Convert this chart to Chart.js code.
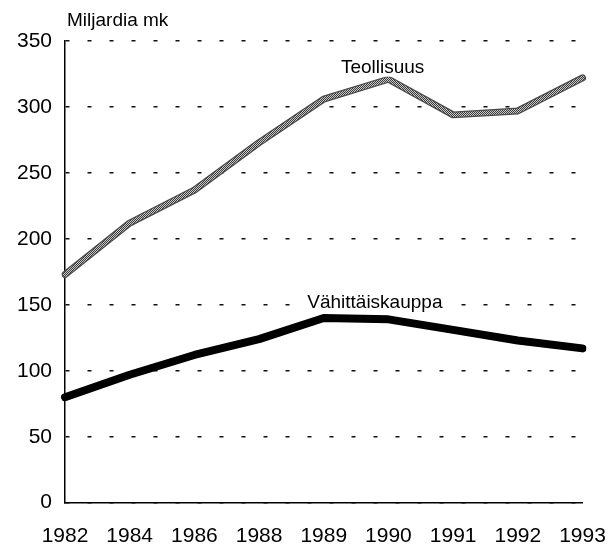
<!DOCTYPE html>
<html>
<head>
<meta charset="utf-8">
<script src="https://cdn.jsdelivr.net/npm/chart.js@4/dist/chart.umd.min.js"></script>
<style>
  html, body { margin: 0; padding: 0; background: #fff; }
  #wrap { width: 611px; height: 548px; }
</style>
</head>
<body>
<div id="wrap"><canvas id="chart-1"></canvas></div>
<script>
// values (Miljardia mk)
const years = ["1982", "1984", "1986", "1988", "1989", "1990", "1991", "1992", "1993"];
const teollisuus = [173, 212, 237, 273, 306, 321, 294, 297, 322];
const vahittaiskauppa = [80, 97, 112, 124, 140, 139, 131, 123, 117];
const yTicks = [0, 50, 100, 150, 200, 250, 300, 350];

// series name labels, placed in data coordinates (category index, value)
const seriesLabels = [
  { text: "Teollisuus", x: 4.91, y: 326 },
  { text: "Vähittäiskauppa", x: 4.79, y: 147.5 },
];

const FONT = "'Liberation Sans', Arial, sans-serif";

// checkered pattern for the grey line
function makePattern() {
  const c = document.createElement("canvas");
  c.width = 2;
  c.height = 2;
  const g = c.getContext("2d");
  g.fillStyle = "#c8c8c8";
  g.fillRect(0, 0, 2, 2);
  g.fillStyle = "#3c3c3c";
  g.fillRect(0, 0, 1, 1);
  g.fillRect(1, 1, 1, 1);
  return g.createPattern(c, "repeat");
}

const textPlugin = {
  id: "textPlugin",
  afterDatasetsDraw(chart) {
    const ctx = chart.ctx;
    const xs = chart.scales.x;
    const ys = chart.scales.y;
    ctx.save();
    ctx.font = "19px " + FONT;
    ctx.fillStyle = "#000";
    ctx.textBaseline = "alphabetic";
    ctx.textAlign = "left";
    ctx.fillText("Miljardia mk", chart.chartArea.left + 2, 26);
    ctx.textAlign = "center";
    seriesLabels.forEach((l) => {
      const px = xs.getPixelForValue(l.x);
      const py = ys.getPixelForValue(l.y);
      const w = ctx.measureText(l.text).width;
      ctx.fillStyle = "#fff";
      ctx.fillRect(px - w / 2 - 4, py - 16, w + 8, 20);
      ctx.fillStyle = "#000";
      ctx.fillText(l.text, px, py);
    });
    ctx.restore();
  },
};

const ctx = document.getElementById("chart-1").getContext("2d");
const myChart = new Chart(ctx, {
  type: "line",
  data: {
    labels: years,
    datasets: [
      {
        label: "Teollisuus",
        data: teollisuus,
        borderColor: "#4a4a4a",
        borderWidth: 7,
        pointRadius: 0,
        tension: 0,
        borderJoinStyle: "round",
        borderCapStyle: "round",
        order: 3,
      },
      {
        label: "Teollisuus",
        data: teollisuus,
        borderColor: makePattern(),
        borderWidth: 4.5,
        pointRadius: 0,
        tension: 0,
        borderJoinStyle: "round",
        borderCapStyle: "round",
        order: 2,
      },
      {
        label: "Vähittäiskauppa",
        data: vahittaiskauppa,
        borderColor: "#000",
        borderWidth: 8,
        pointRadius: 0,
        tension: 0,
        borderJoinStyle: "round",
        borderCapStyle: "round",
        order: 1,
      },
    ],
  },
  options: {
    responsive: true,
    maintainAspectRatio: false,
    animation: false,
    layout: { padding: { left: 0, top: 41, right: 28.5, bottom: 0 } },
    plugins: {
      legend: { display: false },
      tooltip: { enabled: false },
    },
    scales: {
      x: {
        offset: false,
        grid: { display: false, drawTicks: false },
        border: { display: true, color: "#000", width: 1.5 },
        ticks: {
          color: "#000",
          font: { family: FONT, size: 21 },
          padding: 21,
          maxRotation: 0,
          autoSkip: false,
        },
        afterFit(scale) {
          scale.height = 45.3;
          scale.paddingLeft = 0;
          scale.paddingRight = 0;
        },
      },
      y: {
        min: 0,
        max: 350,
        afterBuildTicks(scale) {
          scale.ticks = yTicks.map((v) => ({ value: v }));
        },
        grid: { color: "#111", lineWidth: 1.6, drawTicks: false },
        border: { display: true, color: "#000", width: 1.5, dash: [4, 18] },
        ticks: {
          color: "#000",
          font: { family: FONT, size: 21 },
          padding: 13,
        },
        afterFit(scale) {
          scale.width = 65;
          scale.paddingTop = 0;
          scale.paddingBottom = 0;
        },
      },
    },
  },
  plugins: [textPlugin],
});
</script>
</body>
</html>
